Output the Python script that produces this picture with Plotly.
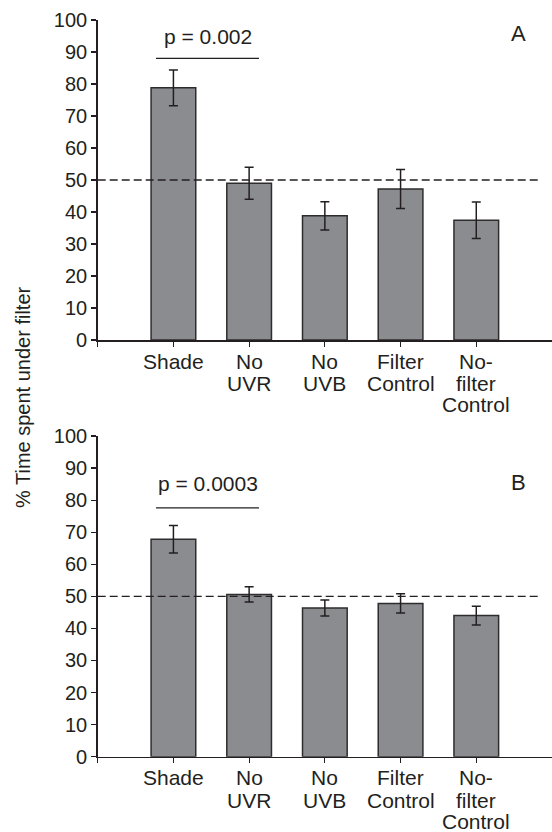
import plotly.graph_objects as go

categories = ["Shade", "No<br>UVR", "No<br>UVB", "Filter<br>Control", "No-<br>filter<br>Control"]
values_a = [78.8, 49.0, 38.8, 47.2, 37.4]
errors_a = [5.6, 5.0, 4.4, 6.1, 5.7]
values_b = [67.8, 50.6, 46.4, 47.8, 44.0]
errors_b = [4.3, 2.4, 2.5, 3.0, 2.9]
y_ticks = [0, 10, 20, 30, 40, 50, 60, 70, 80, 90, 100]
reference_level = 50
p_texts = ["p = 0.002", "p = 0.0003"]
p_line_y = [88, 77.6]
p_text_y = [95, 85.2]
panel_labels = ["A", "B"]

W, H = 552, 832
INK = "#231f20"
FONT = "Liberation Sans, Arial, Helvetica, sans-serif"
FS = 20
FS_LBL = 21
x_pos = list(range(len(categories)))

fig = go.Figure()

panels = [
    (values_a, errors_a, "x", "y"),
    (values_b, errors_b, "x2", "y2"),
]
for vals, errs, xa, ya in panels:
    fig.add_trace(go.Bar(
        x=x_pos, y=vals, width=0.59, xaxis=xa, yaxis=ya,
        marker=dict(color="#8b8c90", line=dict(color="#2e2c2d", width=1.5)),
        error_y=dict(type="data", array=errs, visible=True, color=INK,
                     thickness=1.5, width=4.5),
        showlegend=False, hoverinfo="skip",
    ))

x_domain = [97.7 / W, 1.0]
A_top, A_bot = 20, 340
B_top, B_bot = 436, 756.7
yA = [1 - A_bot / H, 1 - A_top / H]
yB = [1 - B_bot / H, 1 - B_top / H]

xcommon = dict(
    range=[-1, 5], domain=x_domain, showline=True, linecolor=INK, linewidth=1.5,
    ticks="outside", ticklen=5, tickwidth=1.2, tickcolor=INK,
    tickvals=[-1] + x_pos, showticklabels=False,
    showgrid=False, zeroline=False, fixedrange=True, automargin=False,
)
ycommon = dict(
    range=[0, 100], showline=True, linecolor=INK, linewidth=1.5,
    ticks="outside", ticklen=5, tickwidth=1.2, tickcolor=INK,
    tickvals=y_ticks, tickfont=dict(family=FONT, size=FS, color=INK),
    showgrid=False, zeroline=False, fixedrange=True, automargin=False,
)

fig.update_layout(
    width=W, height=H, margin=dict(l=0, r=0, t=0, b=0, autoexpand=False),
    plot_bgcolor="white", paper_bgcolor="white",
    xaxis=dict(**xcommon, anchor="y"),
    yaxis=dict(**ycommon, domain=yA, anchor="x"),
    xaxis2=dict(**xcommon, anchor="y2"),
    yaxis2=dict(**ycommon, domain=yB, anchor="x2"),
)

shapes = []
annotations = []
line_offsets = [21, 43.3, 64.8]
for i, (xr, yr, base) in enumerate([("x", "y", A_bot), ("x2", "y2", B_bot)]):
    shapes.append(dict(type="line", xref=xr, yref=yr, x0=-1, x1=4.84,
                       y0=reference_level, y1=reference_level,
                       line=dict(color=INK, width=1.3, dash="8px,4px")))
    shapes.append(dict(type="line", xref=xr, yref=yr, x0=-0.23, x1=1.13,
                       y0=p_line_y[i], y1=p_line_y[i],
                       line=dict(color=INK, width=1.3)))
    annotations.append(dict(xref=xr, yref=yr, x=0.457, y=p_text_y[i],
                            text=p_texts[i], showarrow=False,
                            font=dict(family=FONT, size=FS_LBL, color=INK)))
    annotations.append(dict(xref=xr, yref=yr, x=4.56, y=[95.8, 85.4][i],
                            text=panel_labels[i], showarrow=False,
                            font=dict(family=FONT, size=22, color=INK)))
    # category labels, one annotation per text line for tight line spacing
    for xi, cat in zip(x_pos, categories):
        for li, part in enumerate(cat.split("<br>")):
            annotations.append(dict(xref=xr, yref="paper", x=xi,
                                    y=1 - (base + line_offsets[li]) / H,
                                    text=part, showarrow=False, borderpad=0,
                                    xanchor="center", yanchor="middle",
                                    font=dict(family=FONT, size=FS_LBL, color=INK)))

annotations.append(dict(xref="paper", yref="paper", x=23 / W, y=1 - 397 / H,
                        text="% Time spent under filter", textangle=-90,
                        showarrow=False, xanchor="center", yanchor="middle",
                        font=dict(family=FONT, size=FS, color=INK)))

fig.update_layout(shapes=shapes, annotations=annotations)
fig.write_html(
    "out.html",
    config={"displayModeBar": False, "staticPlot": True},
    post_script="document.body.style.margin='0';document.body.style.overflow='hidden';",
)
